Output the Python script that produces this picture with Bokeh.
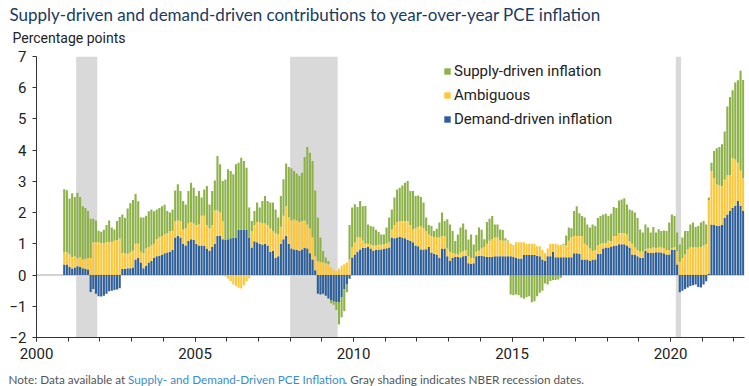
from bokeh.plotting import figure
from bokeh.layouts import column
from bokeh.models import (Range1d, FixedTicker, BoxAnnotation, Span,
                          Legend, LegendItem, ColumnDataSource)
from bokeh.core.properties import value
from bokeh.embed import file_html
from bokeh.resources import INLINE
import numpy as np

# ---------------- data (monthly, first bar = Nov 2000) ----------------
START_YEAR, START_MONTH = 2000, 11

demand = [
    0.34, 0.34,
    0.26, 0.21, 0.24, 0.28, 0.26, 0.22, 0.20, 0.18, -0.54, -0.45, -0.60, -0.68,
    -0.69, -0.66, -0.60, -0.52, -0.50, -0.48, -0.46, -0.42, 0.20, 0.20, 0.22, 0.22,
    0.24, 0.50, 0.55, 0.40, 0.22, 0.30, 0.40, 0.45, 0.55, 0.60, 0.62, 0.65,
    0.70, 0.72, 0.75, 0.80, 1.20, 1.25, 1.20, 1.00, 0.95, 1.10, 1.15, 1.12,
    1.00, 0.95, 0.95, 0.93, 0.85, 0.78, 0.90, 1.00, 1.25, 1.25, 1.15, 1.12,
    1.15, 1.18, 1.20, 1.20, 1.45, 1.46, 1.46, 1.44, 1.20, 0.88, 1.08, 1.05,
    1.00, 0.98, 1.00, 0.95, 0.75, 0.78, 0.55, 0.60, 1.00, 1.15, 1.25, 1.00,
    0.85, 0.82, 0.80, 0.78, 0.82, 0.87, 0.85, 0.70, 0.50, 0.15, -0.60, -0.62,
    -0.60, -0.66, -0.75, -0.80, -0.83, -0.87, -0.86, -0.70, -0.45, -0.30, -0.12, 0.56,
    0.66, 0.75, 0.82, 0.87, 0.87, 0.90, 0.85, 0.78, 0.80, 0.82, 0.82, 0.84,
    0.86, 0.88, 1.20, 1.18, 1.20, 1.23, 1.20, 1.18, 1.12, 1.10, 1.05, 0.95,
    0.92, 0.82, 0.82, 0.83, 0.90, 0.72, 0.68, 0.66, 0.55, 0.85, 0.85, 0.60,
    0.45, 0.55, 0.58, 0.58, 0.56, 0.60, 0.62, 0.38, 0.36, 0.38, 0.60, 0.62,
    0.62, 0.60, 0.58, 0.58, 0.58, 0.60, 0.60, 0.60, 0.60, 0.60, 0.60, 0.60,
    0.58, 0.55, 0.53, 0.53, 0.64, 0.64, 0.64, 0.64, 0.64, 0.62, 0.60, 0.50,
    0.46, 0.60, 0.60, 0.75, 0.57, 0.57, 0.57, 0.57, 0.57, 0.57, 0.57, 0.70,
    0.70, 0.68, 0.50, 0.50, 0.50, 0.46, 0.50, 0.50, 0.68, 0.68, 0.85, 0.88,
    0.88, 0.90, 0.93, 0.95, 0.99, 0.99, 0.99, 0.95, 0.88, 0.66, 0.66, 0.60,
    0.55, 0.55, 0.77, 0.72, 0.71, 0.71, 0.73, 0.73, 0.72, 0.70, 0.66, 0.66,
    0.82, 0.80, 0.34, -0.55, -0.50, -0.45, -0.40, -0.35, -0.33, -0.30, -0.38, -0.40,
    -0.30, -0.20, 0.05, 1.62, 1.60, 1.58, 1.57, 1.60, 1.83, 1.94, 2.05, 2.15,
    2.22, 2.37, 2.22, 2.05,
]

ambiguous = [
    0.40, 0.38,
    0.40, 0.37, 0.36, 0.26, 0.32, 0.28, 0.32, 0.37, 0.55, 1.05, 1.05, 1.05,
    1.03, 1.03, 1.05, 1.06, 1.06, 1.10, 1.12, 1.17, 0.50, 0.50, 0.46, 0.50,
    0.54, 0.50, 0.45, 0.35, 0.48, 0.55, 0.50, 0.50, 0.45, 0.55, 0.58, 0.60,
    0.60, 0.63, 0.65, 0.60, 0.52, 0.50, 0.52, 0.45, 0.55, 0.55, 0.55, 0.53,
    0.60, 0.67, 0.95, 0.97, 0.75, 0.72, 0.70, 1.07, 0.82, 0.75, 0.58, -0.05,
    -0.12, -0.19, -0.30, -0.35, -0.41, -0.43, -0.33, -0.20, -0.10, 0.52, 0.52, 0.65,
    0.68, 0.67, 0.65, 0.65, 0.75, 0.62, 0.80, 0.70, 0.55, 0.75, 0.95, 0.85,
    0.90, 0.96, 0.95, 0.92, 0.91, 0.88, 0.77, 0.80, 0.70, 0.45, 0.45, 0.42,
    0.40, 0.38, 0.35, 0.25, 0.18, 0.13, 0.20, 0.30, 0.35, 0.40, 0.50, 0.32,
    0.38, 0.45, 0.38, 0.23, 0.13, 0.10, 0.12, 0.17, 0.15, 0.15, 0.15, 0.14,
    0.14, 0.17, 0.26, 0.42, 0.50, 0.50, 0.53, 0.55, 0.61, 0.50, 0.41, 0.55,
    0.63, 0.75, 0.68, 0.57, 0.40, 0.53, 0.54, 0.54, 0.65, 0.40, 0.40, 0.25,
    0.30, 0.15, 0.10, 0.08, 0.16, 0.17, 0.18, 0.22, 0.19, 0.17, 0.15, 0.16,
    0.23, 0.30, 0.42, 0.52, 0.57, 0.60, 0.60, 0.52, 0.50, 0.50, 0.48, 0.40,
    0.38, 0.50, 0.52, 0.52, 0.41, 0.36, 0.36, 0.36, 0.36, 0.30, 0.32, 0.30,
    0.24, 0.25, 0.40, 0.25, 0.43, 0.40, 0.40, 0.40, 0.38, 0.53, 0.63, 0.55,
    0.55, 0.57, 0.75, 0.50, 0.45, 0.39, 0.27, 0.30, 0.27, 0.32, 0.18, 0.15,
    0.22, 0.18, 0.32, 0.30, 0.36, 0.36, 0.36, 0.35, 0.20, 0.34, 0.22, 0.20,
    0.20, 0.22, 0.05, 0.13, 0.14, 0.17, 0.13, 0.15, 0.16, 0.16, 0.14, 0.14,
    0.03, 0.08, 0.43, 0.43, 0.55, 0.66, 0.82, 0.88, 0.88, 0.88, 0.88, 0.90,
    0.95, 0.99, 2.35, 1.71, 1.50, 1.32, 1.31, 1.25, 1.22, 1.26, 1.15, 1.59,
    1.48, 1.23, 1.13, 1.05,
]

supply = [
    2.01, 2.00,
    1.79, 2.04, 1.90, 2.10, 1.92, 1.70, 1.63, 1.50, 1.25, 0.75, 0.70, 0.37,
    0.36, 0.42, 0.55, 0.69, 0.46, 0.36, 0.61, 0.69, 1.24, 1.13, 1.45, 1.58,
    1.62, 1.60, 1.36, 1.09, 1.14, 1.05, 1.14, 1.15, 1.04, 0.95, 0.95, 0.95,
    0.95, 0.70, 0.60, 0.70, 0.99, 1.16, 0.97, 0.92, 0.76, 1.04, 1.26, 1.15,
    0.93, 1.07, 0.58, 0.84, 1.25, 0.76, 1.09, 0.96, 1.74, 1.55, 1.28, 1.94,
    2.24, 2.15, 2.03, 2.35, 2.15, 2.30, 2.19, 2.00, 0.96, 0.33, 0.45, 0.62,
    0.48, 0.72, 0.88, 0.77, 0.82, 0.92, 0.75, 0.54, 0.98, 1.17, 1.37, 1.61,
    1.67, 1.55, 1.50, 1.48, 1.55, 2.03, 2.48, 2.42, 2.45, 2.11, 1.39, 0.78,
    0.37, 0.18, 0.10, -0.10, -0.12, -0.25, -0.72, -0.65, -0.70, -0.25, 1.10, 1.28,
    1.23, 0.98, 1.17, 1.10, 1.21, 0.62, 0.60, 0.60, 0.50, 0.41, 0.33, 0.32,
    0.52, 0.79, 0.64, 0.88, 1.04, 1.07, 1.14, 1.23, 1.28, 1.09, 1.23, 1.03,
    1.00, 0.93, 0.82, 0.44, 0.30, 0.32, 0.19, 0.28, 0.48, 0.75, 0.48, 0.94,
    0.87, 0.71, 0.41, 0.64, 0.80, 0.88, 0.66, 0.54, 0.75, 0.43, 0.53, 0.74,
    0.60, 0.25, 0.70, 0.70, 0.74, 0.42, 0.42, 0.34, 0.34, 0.08, 0.03, -0.62,
    -0.65, -0.62, -0.65, -0.72, -0.76, -0.70, -0.68, -0.87, -0.84, -0.68, -0.57, -0.50,
    -0.27, -0.30, -0.19, -0.16, -0.16, -0.14, -0.09, 0.03, 0.32, 0.42, 0.30, 0.80,
    0.95, 0.73, 0.64, 0.84, 0.67, 0.67, 0.85, 0.77, 0.88, 0.89, 0.91, 0.93,
    0.79, 0.88, 0.93, 0.90, 1.04, 1.07, 1.11, 0.96, 1.02, 1.07, 1.12, 1.03,
    0.71, 0.59, 0.80, 0.67, 0.51, 0.66, 0.50, 0.59, 0.53, 0.57, 0.61, 0.88,
    1.09, 1.01, 0.59, 0.55, 0.65, 0.75, 0.59, 0.74, 0.80, 0.66, 0.69, 0.78,
    0.78, 0.63, 0.08, 0.27, 0.87, 1.16, 1.22, 1.34, 1.55, 2.20, 2.50, 2.18,
    2.47, 2.64, 3.19, 3.15,
]

# NBER recessions: (peak year, peak month, trough year, trough month)
recessions = [(2001, 3, 2001, 11), (2007, 12, 2009, 6), (2020, 2, 2020, 4)]

series_names = ["Demand-driven inflation", "Ambiguous", "Supply-driven inflation"]
series_colors = ["#2f5f98", "#fcc73a", "#8db24a"]
x_label_years = [2000, 2005, 2010, 2015, 2020]
x_minor_years = list(range(2000, 2023))
y_ticks = list(range(-2, 8))

title_text = "Supply-driven and demand-driven contributions to year-over-year PCE inflation"
unit_text = "Percentage points"
note_parts = ["Note: Data available at ", "Supply- and Demand-Driven PCE Inflation",
              ". Gray shading indicates NBER recession dates."]

W = 749

# ---------------- stacking (positives up, negatives down) ----------------
n = len(demand)
x = START_YEAR + (START_MONTH - 1 + np.arange(n) + 0.5) / 12.0
pos_base = np.zeros(n)
neg_base = np.zeros(n)
stack = []
for vals in (demand, ambiguous, supply):
    v = np.asarray(vals, dtype=float)
    pos = np.clip(v, 0, None)
    neg = np.clip(v, None, 0)
    bottom = np.where(v >= 0, pos_base, neg_base)
    top = np.where(v >= 0, pos_base + pos, neg_base + neg)
    pos_base = pos_base + pos
    neg_base = neg_base + neg
    stack.append(ColumnDataSource(dict(x=x, top=top, bottom=bottom)))


def text_strip(height):
    f = figure(width=W, height=height, output_backend="svg", toolbar_location=None,
               x_range=Range1d(0, W), y_range=Range1d(height, 0),
               x_axis_type=None, y_axis_type=None, min_border=0,
               frame_align=False,
               outline_line_color=None, background_fill_color="white",
               border_fill_color="white")
    return f


# header
head = text_strip(48)
head.text(x=[9], y=[14], text=[title_text], text_font=value("Lato"),
          text_font_size="17px", text_color="#1a3a5e", text_baseline="middle")
head.text(x=[12], y=[37], text=[unit_text], text_font=value("Roboto"),
          text_font_size="14px", text_color="#222222", text_baseline="middle")

# main chart
p = figure(width=W, height=320, output_backend="svg", toolbar_location=None,
           x_range=Range1d(2000, x[-1] + 0.5 / 12), y_range=Range1d(-2, 7),
           min_border_left=36, min_border_right=5, min_border_top=8,
           min_border_bottom=31, outline_line_color=None, frame_align=False,
           background_fill_color="white", border_fill_color="white")
p.xgrid.visible = False
p.ygrid.visible = False

for (py, pm, ty, tm) in recessions:
    p.add_layout(BoxAnnotation(left=py + pm / 12.0, right=ty + tm / 12.0,
                               fill_color="#d9d9d9", fill_alpha=1.0,
                               line_alpha=0, level="underlay"))

p.add_layout(Span(location=0, dimension="width", line_color="#c4c4c4",
                  line_width=1.5, level="underlay"))

renderers = []
for src, col in zip(stack, series_colors):
    r = p.vbar(x="x", top="top", bottom="bottom", width=0.8 / 12, source=src,
               fill_color=col, line_color=None)
    renderers.append(r)

legend = Legend(items=[LegendItem(label=series_names[i], renderers=[renderers[i]])
                       for i in (2, 1, 0)],
                location=(407, 208), orientation="vertical",
                glyph_width=8, glyph_height=8, label_height=20, spacing=4,
                padding=0, margin=0, label_standoff=3,
                label_text_font="Roboto", label_text_font_size="15px",
                label_text_color="#222222", border_line_color=None,
                background_fill_alpha=0)
p.add_layout(legend, "center")

ax = p.xaxis[0]
ax.ticker = FixedTicker(ticks=x_label_years, minor_ticks=x_minor_years)
ax.major_tick_out = 4
ax.major_tick_in = 0
ax.minor_tick_out = 4
ax.minor_tick_in = 0
ax.axis_line_color = "#333333"
ax.major_tick_line_color = "#333333"
ax.minor_tick_line_color = "#333333"
ax.major_label_text_font = "Roboto"
ax.major_label_text_font_size = "15px"
ax.major_label_text_color = "#222222"
ax.major_label_standoff = 6

ay = p.yaxis[0]
ay.ticker = FixedTicker(ticks=y_ticks, minor_ticks=[])
ay.major_tick_out = 4
ay.major_tick_in = 0
ay.axis_line_color = "#333333"
ay.major_tick_line_color = "#333333"
ay.major_label_text_font = "Roboto"
ay.major_label_text_font_size = "15px"
ay.major_label_text_color = "#222222"
ay.major_label_standoff = 6

# footer
foot = text_strip(18)
note_x = [8, 127.5, 344]
note_colors = ["#555555", "#3b8ccc", "#555555"]
for tx, tt, tc in zip(note_x, note_parts, note_colors):
    foot.text(x=[tx], y=[11], text=[tt], text_font=value("Lato"),
              text_font_size="11.75px", text_color=tc, text_baseline="middle")

layout = column(head, p, foot, spacing=0)
open("out.html", "w").write(file_html(layout, INLINE))
